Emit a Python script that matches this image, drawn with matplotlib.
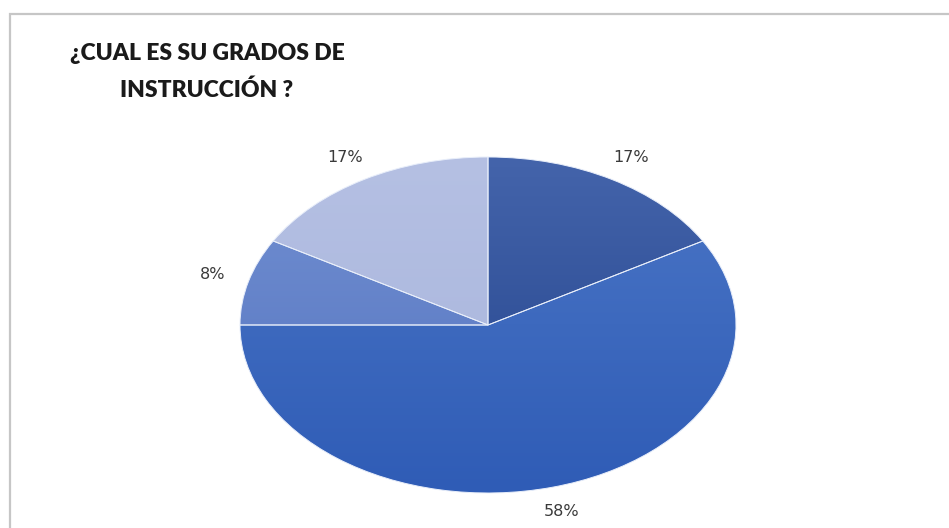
import numpy as np
import matplotlib
matplotlib.use('Agg')
import matplotlib.pyplot as plt
from matplotlib.colors import to_rgb
from matplotlib.patches import Rectangle

# respuestas por grado de instrucción (12 encuestados)
categorias = ['Grado A', 'Grado B', 'Grado C', 'Grado D']
respuestas = [2, 7, 1, 2]
colores_arriba = ['#4464AB', '#4B76C6', '#7290D2', '#B5C0E3']
colores_abajo = ['#22428A', '#2F5CB6', '#5473BF', '#A7B4DC']

fig = plt.figure(figsize=(9.49, 5.28), dpi=100)
fig.patch.set_facecolor('white')

# marco del gráfico
fig.patches.append(Rectangle((9.5 / 949, -0.05), 1.0, 1.05 - 14.5 / 528,
                             transform=fig.transFigure, fill=False,
                             edgecolor='#c6c6c6', linewidth=1.6))

fig.text(207 / 949, 1 - 72 / 528, '¿CUAL ES SU GRADOS DE\nINSTRUCCIÓN ?',
         ha='center', va='center', fontsize=16.5, fontweight='heavy',
         family='Lato', color='#1a1a1a', linespacing=1.85)

# ejes estirados para que el pastel se vea como elipse
ax = fig.add_axes([178 / 949, 1.4 / 528, 620 / 949, 403.2 / 528])
wedges, texts, pcts = ax.pie(respuestas, startangle=90, counterclock=False,
                             colors=colores_arriba, autopct='%.0f%%',
                             pctdistance=1.15,
                             wedgeprops=dict(edgecolor='#e8eefa', linewidth=0.7),
                             textprops=dict(fontsize=11.5, color='#3a3a3a',
                                            family='DejaVu Sans'))
ax.set_aspect('auto')

# sombreado vertical dentro de cada porción
for w, c1, c2 in zip(wedges, colores_arriba, colores_abajo):
    t = np.linspace(0, 1, 200)[:, None, None]
    grad = (1 - t) * np.array(to_rgb(c1)) + t * np.array(to_rgb(c2))
    im = ax.imshow(grad, extent=(-1, 1, -1, 1), aspect='auto', zorder=1.5,
                   interpolation='bilinear')
    im.set_clip_path(w)
ax.set_xlim(-1.25, 1.25)
ax.set_ylim(-1.2, 1.2)
for w in wedges:
    w.set_facecolor('none')
    w.set_zorder(2)

fig.savefig('out.png', dpi=100)
